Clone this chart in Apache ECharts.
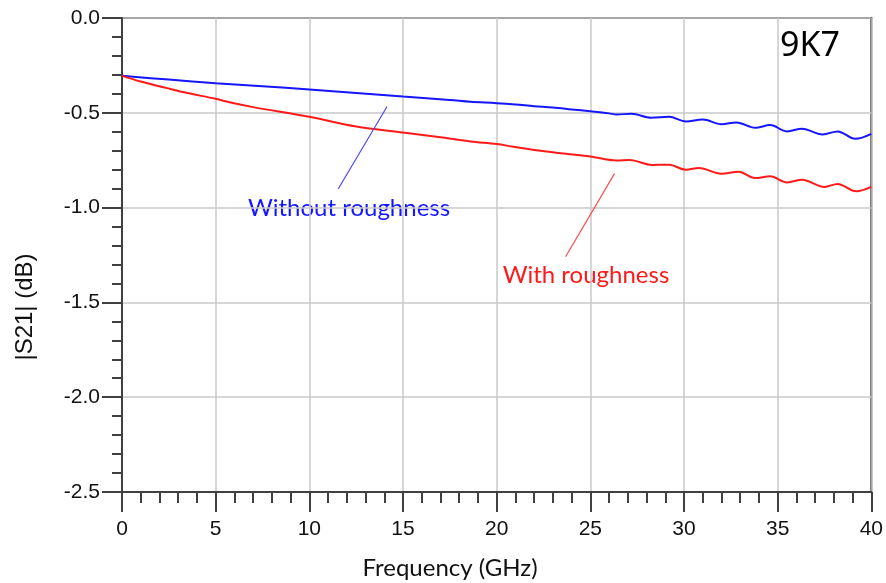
<!DOCTYPE html>
<html>
<head>
<meta charset="utf-8">
<script src="https://cdn.jsdelivr.net/npm/echarts@6/dist/echarts.min.js"></script>
<style>
  html, body { margin: 0; padding: 0; background: #fff; }
  #chart { width: 886px; height: 583px; }
</style>
</head>
<body>
<div id="chart"></div>
<script>
// frequency (GHz) and |S21| (dB)
var freqSmooth = [0, 2.5, 5, 7.5, 10, 12.5, 15, 17.5, 18.6, 20, 21, 22, 23, 24, 25, 26, 26.4, 27.2, 28.25, 29.2, 30.1, 31.0, 32.0, 32.8, 33.8, 34.6, 35.5, 36.3, 37.4, 38.2, 39.15, 40];
var withoutRough = [-0.305, -0.325, -0.344, -0.36, -0.377, -0.395, -0.414, -0.432, -0.442, -0.449, -0.456, -0.465, -0.472, -0.482, -0.492, -0.503, -0.509, -0.505, -0.526, -0.521, -0.546, -0.535, -0.56, -0.551, -0.579, -0.565, -0.598, -0.584, -0.614, -0.598, -0.637, -0.611];

var freqRough = [0, 1, 2.4, 3.5, 5, 5.8, 7, 10, 12.5, 15, 17.1, 18.6, 20, 20.9, 22.65, 23.7, 25, 26.4, 27.1, 28.3, 29.2, 30.1, 30.8, 32.0, 32.9, 33.8, 34.6, 35.5, 36.3, 37.5, 38.2, 39.2, 40];
var withRough = [-0.305, -0.335, -0.37, -0.396, -0.426, -0.446, -0.47, -0.521, -0.572, -0.604, -0.63, -0.651, -0.665, -0.679, -0.704, -0.716, -0.73, -0.751, -0.749, -0.775, -0.774, -0.8, -0.791, -0.821, -0.811, -0.844, -0.835, -0.867, -0.853, -0.891, -0.875, -0.914, -0.891];

// leader lines of the two callouts, in data units
var blueLeader = [[11.54, -0.902], [14.15, -0.467]];
var redLeader = [[23.68, -1.259], [26.29, -0.821]];

function pairs(xs, ys) {
  var out = [];
  for (var i = 0; i < xs.length; i++) out.push([xs[i], ys[i]]);
  return out;
}

var axisDark = '#404040';
var gridGray = '#c8c8c8';

var myChart = echarts.init(document.getElementById('chart'));
var option = {
  animation: false,
  grid: {
    left: 122, right: 14, top: 18, bottom: 91,
    show: true, borderColor: axisDark, borderWidth: 2
  },
  xAxis: {
    type: 'value', position: 'bottom',
    min: 0, max: 40, interval: 5,
    axisLine: { show: true, onZero: false, lineStyle: { color: axisDark, width: 2 } },
    axisTick: { show: true, inside: false, length: 20, lineStyle: { color: axisDark, width: 2 } },
    minorTick: { show: true, splitNumber: 5, length: 11, lineStyle: { color: axisDark, width: 2 } },
    splitLine: { show: true, lineStyle: { color: gridGray, width: 1.5 } },
    axisLabel: {
      margin: 27, fontSize: 21, color: '#111',
      fontFamily: '"Liberation Sans", Arial'
    }
  },
  yAxis: {
    type: 'value', position: 'left',
    min: -2.5, max: 0, interval: 0.5,
    axisLine: { show: true, onZero: false, lineStyle: { color: axisDark, width: 2 } },
    axisTick: { show: true, inside: false, length: 20, lineStyle: { color: axisDark, width: 2 } },
    minorTick: { show: true, splitNumber: 5, length: 10, lineStyle: { color: axisDark, width: 2 } },
    splitLine: { show: true, lineStyle: { color: gridGray, width: 1.5 } },
    axisLabel: {
      margin: 22, fontSize: 21, color: '#111',
      fontFamily: '"Liberation Sans", Arial',
      formatter: function (v) { return v.toFixed(1); }
    }
  },
  series: [
    {
      name: 'Without roughness',
      type: 'line',
      data: pairs(freqSmooth, withoutRough),
      smooth: 0.35,
      showSymbol: false,
      lineStyle: { color: '#1515ff', width: 2 },
      markLine: {
        silent: true, symbol: 'none', label: { show: false },
        lineStyle: { color: '#4a4aff', width: 1.2, type: 'solid' },
        data: [[{ coord: blueLeader[0] }, { coord: blueLeader[1] }]]
      }
    },
    {
      name: 'With roughness',
      type: 'line',
      data: pairs(freqRough, withRough),
      smooth: 0.35,
      showSymbol: false,
      lineStyle: { color: '#ff1a1a', width: 2 },
      markLine: {
        silent: true, symbol: 'none', label: { show: false },
        lineStyle: { color: '#ff4a4a', width: 1.2, type: 'solid' },
        data: [[{ coord: redLeader[0] }, { coord: redLeader[1] }]]
      }
    }
  ],
  graphic: [
    {
      type: 'text', left: 780, top: 29,
      style: { text: '9K7', fontSize: 34, fill: '#000', fontFamily: '"Noto Sans", sans-serif' }
    },
    {
      type: 'text', x: 349, y: 208,
      style: { text: 'Without roughness', fontSize: 24, fill: '#1515ff', fontFamily: 'Lato, sans-serif', align: 'center', verticalAlign: 'middle' }
    },
    {
      type: 'text', x: 586, y: 275,
      style: { text: 'With roughness', fontSize: 24, fill: '#ff1a1a', fontFamily: 'Lato, sans-serif', align: 'center', verticalAlign: 'middle' }
    },
    {
      type: 'text', x: 450, y: 568,
      style: { text: 'Frequency (GHz)', fontSize: 24, fill: '#111', fontFamily: 'Lato, sans-serif', align: 'center', verticalAlign: 'middle' }
    },
    {
      type: 'text', x: 25, y: 307, rotation: Math.PI / 2,
      style: { text: '|S21| (dB)', fontSize: 24, fill: '#111', fontFamily: '"Liberation Sans", Arial', align: 'center', verticalAlign: 'middle' }
    }
  ]
};
option && myChart.setOption(option);
</script>
</body>
</html>
